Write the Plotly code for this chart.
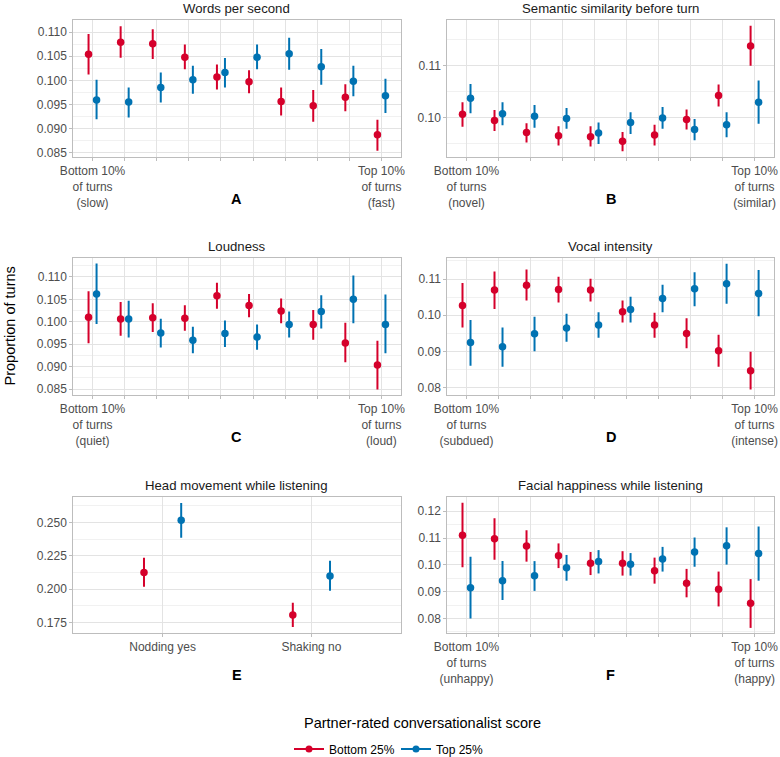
import plotly.graph_objects as go

FW, FH = 780, 757
FONT = "Liberation Sans, Arial, sans-serif"
RED = "#D5002B"
BLUE = "#0072B2"
DODGE = 0.125


def px2x(px):
    return px / FW


def py2y(py):
    return 1 - py / FH


# ---- Panel A: Words per second
a_bot = [0.1054, 0.1079, 0.1076, 0.1048, 0.1007, 0.0997, 0.0956, 0.0947, 0.0965, 0.0887]
a_bot_lo = [0.1012, 0.1047, 0.1044, 0.1023, 0.0981, 0.0973, 0.0927, 0.0914, 0.0936, 0.0854]
a_bot_hi = [0.1096, 0.1112, 0.1106, 0.1074, 0.1033, 0.1021, 0.0985, 0.0980, 0.0992, 0.0918]
a_top = [0.0959, 0.0955, 0.0985, 0.1001, 0.1016, 0.1048, 0.1055, 0.1028, 0.0998, 0.0968]
a_top_lo = [0.0919, 0.0923, 0.0954, 0.0972, 0.0985, 0.1023, 0.1022, 0.0991, 0.0967, 0.0932]
a_top_hi = [0.1001, 0.0985, 0.1016, 0.1030, 0.1046, 0.1074, 0.1088, 0.1065, 0.1030, 0.1003]

# ---- Panel B: Semantic similarity before turn
b_bot = [0.1006, 0.0994, 0.0971, 0.0965, 0.0963, 0.0954, 0.0966, 0.0996, 0.1042, 0.1137]
b_bot_lo = [0.0982, 0.0974, 0.0952, 0.0946, 0.0944, 0.0935, 0.0946, 0.0977, 0.1021, 0.1099]
b_bot_hi = [0.1029, 0.1014, 0.0989, 0.0983, 0.0983, 0.0972, 0.0986, 0.1015, 0.1063, 0.1176]
b_top = [0.1037, 0.1007, 0.1002, 0.0998, 0.0970, 0.0990, 0.0999, 0.0977, 0.0986, 0.1029]
b_top_lo = [0.1008, 0.0985, 0.0980, 0.0978, 0.0949, 0.0968, 0.0978, 0.0956, 0.0962, 0.0988]
b_top_hi = [0.1064, 0.1029, 0.1024, 0.1018, 0.0990, 0.1010, 0.1020, 0.0997, 0.1010, 0.1071]

# ---- Panel C: Loudness
c_bot = [0.1010, 0.1006, 0.1009, 0.1008, 0.1058, 0.1036, 0.1024, 0.0994, 0.0953, 0.0904]
c_bot_lo = [0.0952, 0.0969, 0.0977, 0.0980, 0.1029, 0.1010, 0.0997, 0.0960, 0.0910, 0.0849]
c_bot_hi = [0.1068, 0.1044, 0.1041, 0.1037, 0.1087, 0.1062, 0.1052, 0.1026, 0.0998, 0.0958]
c_top = [0.1062, 0.1006, 0.0975, 0.0959, 0.0974, 0.0966, 0.0994, 0.1023, 0.1050, 0.0994]
c_top_lo = [0.0995, 0.0965, 0.0943, 0.0930, 0.0944, 0.0938, 0.0965, 0.0985, 0.0997, 0.0930]
c_top_hi = [0.1130, 0.1047, 0.1007, 0.0989, 0.1003, 0.0994, 0.1023, 0.1059, 0.1103, 0.1061]

# ---- Panel D: Vocal intensity
d_bot = [0.1027, 0.1070, 0.1083, 0.1071, 0.1070, 0.1010, 0.0973, 0.0950, 0.0902, 0.0847]
d_bot_lo = [0.0966, 0.1017, 0.1041, 0.1035, 0.1038, 0.0980, 0.0938, 0.0909, 0.0858, 0.0795]
d_bot_hi = [0.1089, 0.1121, 0.1126, 0.1106, 0.1101, 0.1041, 0.1007, 0.0992, 0.0946, 0.0899]
d_top = [0.0925, 0.0913, 0.0949, 0.0965, 0.0973, 0.1016, 0.1046, 0.1073, 0.1087, 0.1060]
d_top_lo = [0.0861, 0.0858, 0.0901, 0.0927, 0.0938, 0.0980, 0.1008, 0.1025, 0.1032, 0.0997]
d_top_hi = [0.0987, 0.0966, 0.0996, 0.1004, 0.1008, 0.1051, 0.1084, 0.1119, 0.1142, 0.1125]

# ---- Panel E: Head movement while listening
e_cats = ["Nodding yes", "Shaking no"]
e_bot = [0.2124, 0.1805]
e_bot_lo = [0.2017, 0.1715]
e_bot_hi = [0.2236, 0.1897]
e_top = [0.2517, 0.2099]
e_top_lo = [0.2385, 0.1987]
e_top_hi = [0.2647, 0.2213]

# ---- Panel F: Facial happiness while listening
f_bot = [0.1110, 0.1097, 0.1070, 0.1034, 0.1006, 0.1006, 0.0978, 0.0931, 0.0909, 0.0857]
f_bot_lo = [0.0991, 0.1019, 0.1012, 0.0988, 0.0962, 0.0960, 0.0930, 0.0879, 0.0845, 0.0765]
f_bot_hi = [0.1232, 0.1174, 0.1129, 0.1080, 0.1048, 0.1051, 0.1027, 0.0985, 0.0975, 0.0947]
f_top = [0.0915, 0.0941, 0.0959, 0.0989, 0.1013, 0.1002, 0.1022, 0.1048, 0.1071, 0.1042]
f_top_lo = [0.0800, 0.0869, 0.0903, 0.0941, 0.0968, 0.0960, 0.0975, 0.0993, 0.1001, 0.0941]
f_top_hi = [0.1030, 0.1014, 0.1014, 0.1037, 0.1055, 0.1044, 0.1067, 0.1102, 0.1140, 0.1143]

series_names = ["Bottom 25%", "Top 25%"]
legend_title = "Partner-rated conversationalist score"
y_title = "Proportion of turns"


def end_labels(lo_word, hi_word):
    t = [""] * 10
    t[0] = "Bottom 10%<br>of turns<br>(" + lo_word + ")"
    t[-1] = "Top 10%<br>of turns<br>(" + hi_word + ")"
    return t


panels = [
    dict(title="Words per second", letter="A", n=10, ticktext=end_labels("slow", "fast"),
         bot=(a_bot, a_bot_lo, a_bot_hi), top=(a_top, a_top_lo, a_top_hi),
         yr=[0.0841, 0.1125], dtick=0.005, tick0=0.085, minor=0.0025, fmt=".3f",
         px=(73.3, 400.7), py=(20, 157)),
    dict(title="Semantic similarity before turn", letter="B", n=10, ticktext=end_labels("novel", "similar"),
         bot=(b_bot, b_bot_lo, b_bot_hi), top=(b_top, b_top_lo, b_top_hi),
         yr=[0.0924, 0.1187], dtick=0.01, tick0=0.10, minor=0.005, fmt=".2f",
         px=(447.3, 773.8), py=(20, 157)),
    dict(title="Loudness", letter="C", n=10, ticktext=end_labels("quiet", "loud"),
         bot=(c_bot, c_bot_lo, c_bot_hi), top=(c_top, c_top_lo, c_top_hi),
         yr=[0.0837, 0.1142], dtick=0.005, tick0=0.085, minor=0.0025, fmt=".3f",
         px=(73.3, 400.7), py=(258, 395)),
    dict(title="Vocal intensity", letter="D", n=10, ticktext=end_labels("subdued", "intense"),
         bot=(d_bot, d_bot_lo, d_bot_hi), top=(d_top, d_top_lo, d_top_hi),
         yr=[0.0780, 0.1158], dtick=0.01, tick0=0.08, minor=0.005, fmt=".2f",
         px=(447.3, 773.8), py=(258, 395)),
    dict(title="Head movement while listening", letter="E", n=2, ticktext=e_cats,
         bot=(e_bot, e_bot_lo, e_bot_hi), top=(e_top, e_top_lo, e_top_hi),
         yr=[0.167, 0.2692], dtick=0.025, tick0=0.175, minor=0.0125, fmt=".3f",
         px=(73.3, 400.7), py=(497, 633)),
    dict(title="Facial happiness while listening", letter="F", n=10, ticktext=end_labels("unhappy", "happy"),
         bot=(f_bot, f_bot_lo, f_bot_hi), top=(f_top, f_top_lo, f_top_hi),
         yr=[0.0746, 0.1253], dtick=0.01, tick0=0.08, minor=0.005, fmt=".2f",
         px=(447.3, 773.8), py=(497, 633)),
]

fig = go.Figure()
layout = {}
annotations = []

GRID = "#e3e3e3"
MINOR = "#f1f1f1"
FRAME = "#bdbdbd"
TICKC = "#4d4d4d"

for i, p in enumerate(panels):
    k = "" if i == 0 else str(i + 1)
    xa, ya = "x" + k, "y" + k
    pos = list(range(1, p["n"] + 1))
    for (vals, lo, hi), col, off in [(p["bot"], RED, -DODGE), (p["top"], BLUE, DODGE)]:
        fig.add_trace(go.Scatter(
            x=[c + off for c in pos], y=vals, mode="markers",
            marker=dict(color=col, size=7.5),
            error_y=dict(type="data", symmetric=False,
                         array=[h - v for h, v in zip(hi, vals)],
                         arrayminus=[v - l for v, l in zip(vals, lo)],
                         color=col, thickness=2, width=0),
            xaxis=xa, yaxis=ya, showlegend=False, hoverinfo="skip"))
    x0, x1 = p["px"]
    y0, y1 = p["py"]
    layout["xaxis" + k] = dict(
        domain=[px2x(x0), px2x(x1)], anchor=ya, range=[0.4, p["n"] + 0.6],
        tickvals=pos, ticktext=p["ticktext"], tickmode="array",
        showgrid=True, gridcolor=GRID, gridwidth=1, zeroline=False,
        showline=True, mirror=True, linecolor=FRAME, linewidth=1,
        ticks="outside", ticklen=3, tickcolor=FRAME, tickwidth=1,
        tickfont=dict(size=12, color=TICKC, family=FONT), fixedrange=True)
    layout["yaxis" + k] = dict(
        domain=[py2y(y1), py2y(y0)], anchor=xa, range=p["yr"],
        tick0=p["tick0"], dtick=p["dtick"], tickformat=p["fmt"],
        showgrid=True, gridcolor=GRID, gridwidth=1, zeroline=False,
        minor=dict(dtick=p["minor"], tick0=p["tick0"], showgrid=True,
                   gridcolor=MINOR, gridwidth=1, ticks=""),
        showline=True, mirror=True, linecolor=FRAME, linewidth=1,
        ticks="outside", ticklen=3, tickcolor=FRAME, tickwidth=1,
        tickfont=dict(size=12, color=TICKC, family=FONT), fixedrange=True)
    cx = px2x((x0 + x1) / 2)
    annotations.append(dict(text=p["title"], x=cx, y=py2y(y0 - 12), xref="paper", yref="paper",
                            xanchor="center", yanchor="middle", showarrow=False,
                            font=dict(size=13.2, color="#1a1a1a", family=FONT)))
    annotations.append(dict(text="<b>" + p["letter"] + "</b>", x=cx, y=py2y(y1 + 41.5),
                            xref="paper", yref="paper", xanchor="center", yanchor="middle",
                            showarrow=False, font=dict(size=14.5, color="#000000", family=FONT)))

annotations.append(dict(text=y_title, x=px2x(9), y=py2y(326.5), xref="paper", yref="paper",
                        xanchor="center", yanchor="middle", textangle=-90, showarrow=False,
                        font=dict(size=14.5, color="#000000", family=FONT)))
annotations.append(dict(text=legend_title, x=px2x(302), y=py2y(723), xref="paper", yref="paper",
                        xanchor="left", yanchor="middle", showarrow=False,
                        font=dict(size=14.5, color="#000000", family=FONT)))

# legend entries
for name, col in zip(series_names, [RED, BLUE]):
    fig.add_trace(go.Scatter(x=[None], y=[None], mode="lines+markers", name=name,
                             line=dict(color=col, width=2), marker=dict(color=col, size=7),
                             xaxis="x", yaxis="y", showlegend=True))

fig.update_layout(
    width=FW, height=FH, autosize=False,
    margin=dict(l=0, r=0, t=0, b=0, pad=0, autoexpand=False),
    paper_bgcolor="white", plot_bgcolor="white",
    font=dict(family=FONT, color="#000000"),
    annotations=annotations,
    showlegend=True,
    hovermode=False,
    legend=dict(orientation="h", x=px2x(289), xanchor="left", y=py2y(749), yanchor="middle",
                font=dict(size=12, family=FONT, color="#000000"),
                bgcolor="rgba(0,0,0,0)", borderwidth=0,
                entrywidth=62, entrywidthmode="pixels", tracegroupgap=0),
    **layout)

# the figure is exactly the window size: drop the page's default body margin
fig.write_html("out.html", config={"displayModeBar": False, "staticPlot": True},
               post_script="document.body.style.margin = '0'; document.body.style.overflow = 'hidden';")
